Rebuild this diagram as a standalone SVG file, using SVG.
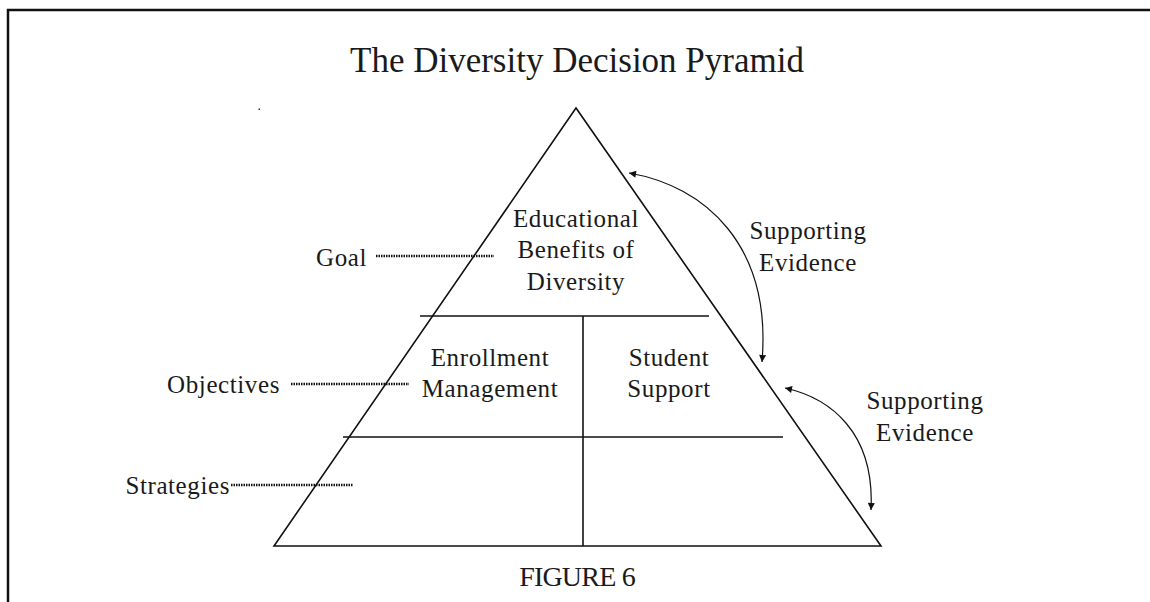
<svg xmlns="http://www.w3.org/2000/svg" width="1150" height="602" viewBox="0 0 1150 602">
<style>
text{font-family:"Liberation Serif","DejaVu Serif",serif;fill:#1a1a1a}
.t{font-size:25px;letter-spacing:0.6px}
.line{stroke:#111;stroke-width:1.6;fill:none}
.dot{stroke:#111;stroke-width:2.4;stroke-dasharray:1.5 1;fill:none}
.arc{stroke:#111;stroke-width:1.2;fill:none;marker-end:url(#ah);marker-start:url(#ahs)}
</style>
<defs>
<marker id="ah" viewBox="0 0 10 10" refX="10" refY="5" markerWidth="10" markerHeight="7" markerUnits="userSpaceOnUse" orient="auto"><path d="M0,0 L10,5 L0,10 z" fill="#111"/></marker>
<marker id="ahs" viewBox="0 0 10 10" refX="10" refY="5" markerWidth="10" markerHeight="7" markerUnits="userSpaceOnUse" orient="auto-start-reverse"><path d="M0,0 L10,5 L0,10 z" fill="#111"/></marker>
</defs>
<rect width="1150" height="602" fill="#fff"/>
<path d="M8,602 V10 H1150" stroke="#111" stroke-width="2.5" fill="none"/>
<rect x="258.5" y="108.5" width="1.5" height="1.5" fill="#333"/>
<text x="577" y="72" font-size="35" text-anchor="middle">The Diversity Decision Pyramid</text>
<g id="pyramid">
<path class="line" d="M576,108 L274,546 L881,546 Z"/>
<line class="line" x1="420" y1="316" x2="709" y2="316"/>
<line class="line" x1="343" y1="437" x2="783" y2="437"/>
<line class="line" x1="583" y1="316" x2="583" y2="546"/>
</g>
<g id="goal-node">
<text class="t" x="576" y="227" text-anchor="middle">Educational</text>
<text class="t" x="576" y="258" text-anchor="middle">Benefits of</text>
<text class="t" x="576" y="290" text-anchor="middle">Diversity</text>
</g>
<g id="enrollment-node">
<text class="t" x="490" y="366" text-anchor="middle">Enrollment</text>
<text class="t" x="490" y="397" text-anchor="middle">Management</text>
</g>
<g id="support-node">
<text class="t" x="669" y="366" text-anchor="middle">Student</text>
<text class="t" x="669" y="397" text-anchor="middle">Support</text>
</g>
<g id="goal-label">
<text class="t" x="367" y="266" text-anchor="end">Goal</text>
</g>
<g id="objectives-label">
<text class="t" x="280" y="393" text-anchor="end">Objectives</text>
</g>
<g id="strategies-label">
<text class="t" x="230" y="494" text-anchor="end">Strategies</text>
</g>
<g id="evidence-1">
<text class="t" x="808" y="239" text-anchor="middle">Supporting</text>
<text class="t" x="808" y="271" text-anchor="middle">Evidence</text>
</g>
<g id="evidence-2">
<text class="t" x="925" y="409" text-anchor="middle">Supporting</text>
<text class="t" x="925" y="441" text-anchor="middle">Evidence</text>
</g>
<g id="connectors">
<line class="dot" x1="376" y1="256" x2="494" y2="256"/>
<line class="dot" x1="291" y1="384" x2="409" y2="384"/>
<line class="dot" x1="231" y1="485" x2="353" y2="485"/>
<path class="arc" d="M629,173 C705,186 772,245 762,362"/>
<path class="arc" d="M785,388 C830,398 875,432 871,510"/>
</g>
<text x="577" y="586" font-size="28" letter-spacing="-0.8" text-anchor="middle">FIGURE 6</text>
</svg>
